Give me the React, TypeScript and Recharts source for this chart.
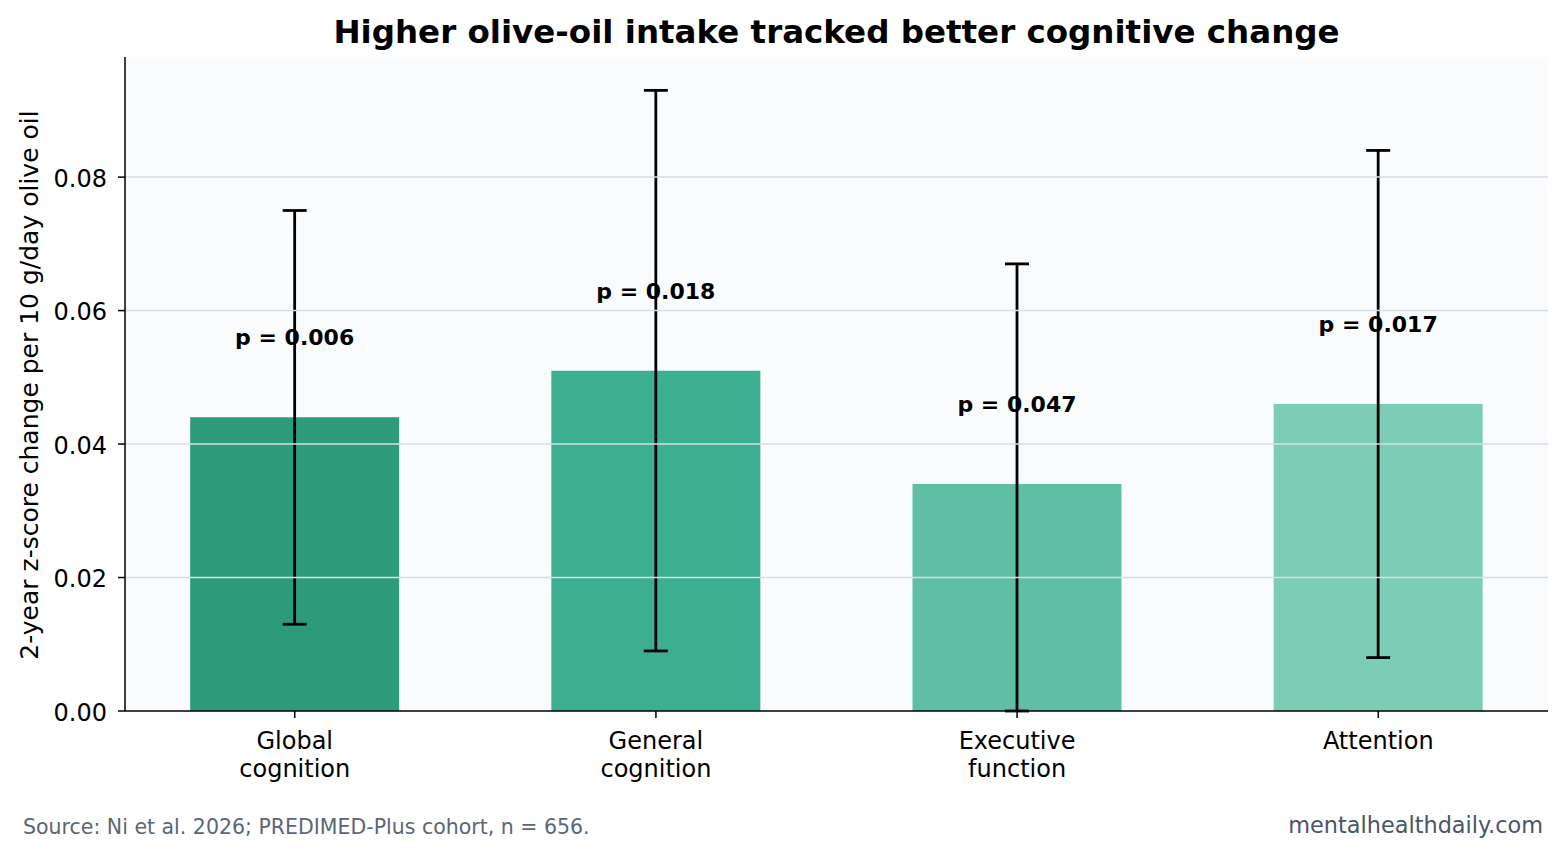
import React from 'react';
import { ComposedChart, Bar, Cell, ErrorBar, LabelList, XAxis, YAxis, ReferenceLine } from 'recharts';

const categories = ['Global\ncognition', 'General\ncognition', 'Executive\nfunction', 'Attention'];
const effects = [0.044, 0.051, 0.034, 0.046];
const ciLow = [0.013, 0.009, 0.0, 0.008];
const ciHigh = [0.075, 0.093, 0.067, 0.084];
const pValues = ['0.006', '0.018', '0.047', '0.017'];
const barColors = ['#2e9c7b', '#3daf91', '#5ebfa5', '#7bcdb5'];
const yTicks = [0, 0.02, 0.04, 0.06, 0.08];
const gridLines = [0.02, 0.04, 0.06, 0.08];

const FONT = '"DejaVu Sans", sans-serif';
const W = 1566;
const H = 856;

const data = categories.map((name, i) => ({
  idx: i,
  name,
  effect: effects[i],
  err: [effects[i] - ciLow[i], ciHigh[i] - effects[i]],
  p: pValues[i],
}));

const CategoryTick = (props: any) => {
  const { x, y, payload } = props;
  const lines = categories[payload.value].split('\n');
  return (
    <g transform={`translate(${x},${y})`}>
      {lines.map((line, i) => (
        <text key={i} x={0} y={29 + i * 28} textAnchor="middle" fontSize={24} fontFamily={FONT} fill="#000">
          {line}
        </text>
      ))}
    </g>
  );
};

const PLabel = (props: any) => {
  const { x, y, width, value } = props;
  return (
    <text x={x + width / 2} y={y - 72} textAnchor="middle" fontSize={22} fontWeight="bold" fontFamily={FONT} fill="#000">
      {`p = ${value}`}
    </text>
  );
};

export default function App() {
  return (
    <div style={{ position: 'absolute', left: 0, top: 0, width: W, height: H, background: '#fff', fontFamily: FONT }}>
      <div style={{ position: 'absolute', left: 125, width: 1423, top: 12, textAlign: 'center', fontSize: 32.5, fontWeight: 'bold', color: '#000', lineHeight: '40px' }}>
        Higher olive-oil intake tracked better cognitive change
      </div>
      <ComposedChart width={W} height={H} data={data} margin={{ top: 57, right: 18, bottom: 85, left: 65 }}>
        <rect x={125} y={57} width={1423} height={654} fill="#f9fbfd" />
        <XAxis
          dataKey="idx"
          type="number"
          domain={[-0.47, 3.47]}
          ticks={[0, 1, 2, 3]}
          allowDataOverflow
          height={60}
          tick={<CategoryTick />}
          tickSize={7}
          axisLine={{ stroke: '#000', strokeWidth: 1.5 }}
          tickLine={{ stroke: '#000', strokeWidth: 1.5 }}
        />
        <YAxis
          type="number"
          domain={[0, 0.098]}
          ticks={yTicks}
          allowDataOverflow
          width={60}
          tickFormatter={(v: number) => v.toFixed(2)}
          tick={{ fontSize: 24, fontFamily: FONT, fill: '#000', dy: 1, dx: -9 }}
          tickSize={7}
          axisLine={{ stroke: '#000', strokeWidth: 1.5 }}
          tickLine={{ stroke: '#000', strokeWidth: 1.5 }}
        />
        <Bar dataKey="effect" barSize={209} isAnimationActive={false}>
          {data.map((d, i) => (
            <Cell key={d.name} fill={barColors[i]} />
          ))}
          <ErrorBar dataKey="err" width={12} stroke="#000" strokeWidth={2.8} direction="y" />
          <LabelList dataKey="p" content={<PLabel />} />
        </Bar>
        {gridLines.map((g) => (
          <ReferenceLine key={g} y={g} stroke="#d9dde4" strokeWidth={1.5} />
        ))}
      </ComposedChart>
      <div
        style={{
          position: 'absolute',
          left: 29,
          top: 385,
          transform: 'translate(-50%, -50%) rotate(-90deg)',
          whiteSpace: 'nowrap',
          fontSize: 25,
          color: '#000',
        }}
      >
        2-year z-score change per 10 g/day olive oil
      </div>
      <div style={{ position: 'absolute', left: 23, top: 814, fontSize: 20.5, color: '#5b6677', lineHeight: '26px' }}>
        Source: Ni et al. 2026; PREDIMED-Plus cohort, n = 656.
      </div>
      <div style={{ position: 'absolute', right: 23, top: 811, fontSize: 22.4, color: '#4b5566', lineHeight: '28px' }}>
        mentalhealthdaily.com
      </div>
    </div>
  );
}
